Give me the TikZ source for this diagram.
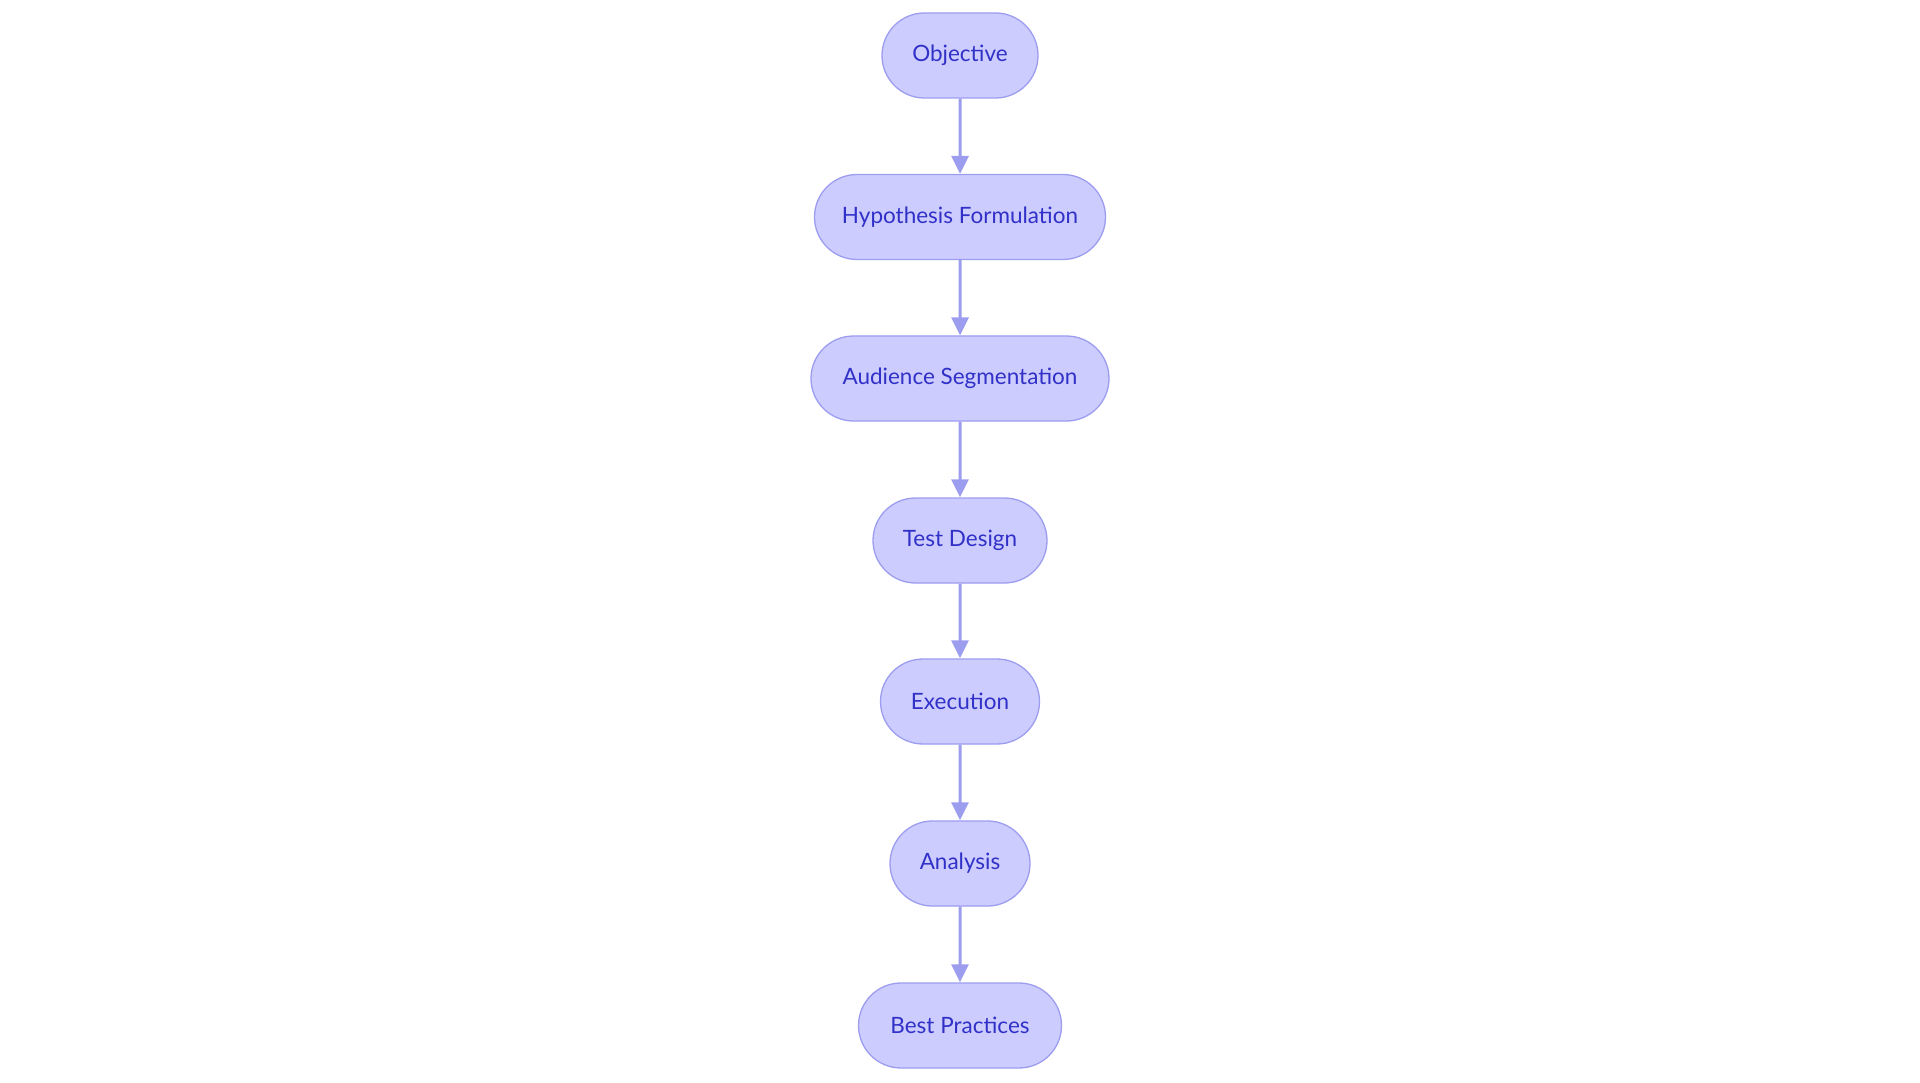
\documentclass[tikz,border=0pt]{standalone}
\usepackage{fontspec}
\setmainfont{Lato}
\usetikzlibrary{arrows.meta,positioning,shapes.misc}
\definecolor{stepfill}{HTML}{CCCCFF}
\definecolor{stepline}{HTML}{9D9DF0}
\definecolor{steptext}{HTML}{3131C8}
\tikzset{
    stepnode/.style={rounded rectangle,draw=stepline,fill=stepfill,line width=1.3pt,
        text=steptext,minimum height=85pt,inner xsep=0pt,font=\fontsize{22.5}{26}\selectfont},
    arr/.style={-{Triangle[length=18pt,width=17pt]},stepline,line width=3pt},
}
\begin{document}
\begin{tikzpicture}[x=1pt,y=-1pt]
    \useasboundingbox (0,0) rectangle (1920,1083);
    \node[stepnode,minimum width=156pt] (obj) at (960,55.5) {Objective};
    \node[stepnode,minimum width=291pt] (hyp) at (960,217) {Hypothesis Formulation};
    \node[stepnode,minimum width=298pt] (aud) at (960,378.5) {Audience Segmentation};
    \node[stepnode,minimum width=174pt] (des) at (960,540.5) {Test Design};
    \node[stepnode,minimum width=159pt] (exe) at (960,701.5) {Execution};
    \node[stepnode,minimum width=140pt] (ana) at (960,863.5) {Analysis};
    \node[stepnode,minimum width=203pt] (bp) at (960,1025.5) {Best Practices};
    \foreach \a/\b in {obj/hyp,hyp/aud,aud/des,des/exe,exe/ana,ana/bp}
        \draw[arr] (\a) -- (\b);
\end{tikzpicture}
\end{document}
